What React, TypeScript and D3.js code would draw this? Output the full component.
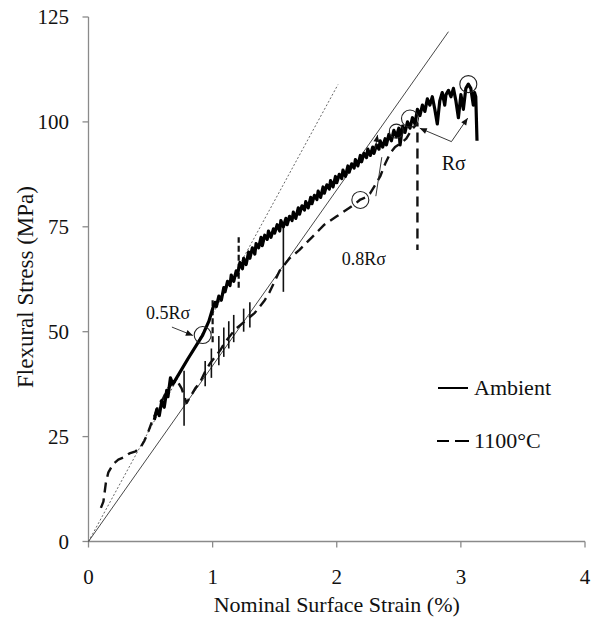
import React from 'react';
import * as d3 from 'd3';

// strain (%) , stress (MPa)
const ambient: [number, number][] = [
  [0.53, 29], [0.55, 31.5], [0.57, 30], [0.59, 33.5], [0.61, 32], [0.63, 36], [0.64, 34.5],
  [0.66, 39], [0.68, 37.5], [0.80, 43.5], [0.92, 49.2], [0.97, 52.5], [1.00, 55.5],
  [1.02, 57], [1.03, 56], [1.05, 58.5], [1.07, 57.5], [1.09, 60.5], [1.10, 59.5], [1.12, 62],
  [1.14, 61], [1.15, 63.5], [1.17, 62], [1.19, 64.5], [1.20, 63.5], [1.22, 66.5], [1.24, 65],
  [1.25, 67.5], [1.27, 66], [1.29, 69], [1.30, 67.5], [1.32, 70], [1.34, 68.5], [1.35, 71],
  [1.37, 70], [1.39, 72.5], [1.40, 70.5], [1.42, 73], [1.44, 72], [1.45, 74], [1.47, 72.5],
  [1.49, 74.5], [1.50, 73.5], [1.52, 75.5], [1.54, 74], [1.55, 76.5], [1.57, 75], [1.59, 77],
  [1.60, 75.5], [1.62, 77.5], [1.64, 76.5], [1.65, 78.5], [1.67, 77], [1.69, 79.5], [1.70, 78],
  [1.72, 80], [1.74, 79], [1.75, 81], [1.77, 79.5], [1.79, 82], [1.80, 80.5], [1.82, 82.5],
  [1.84, 81.5], [1.85, 83.5], [1.87, 82], [1.89, 84.5], [1.90, 83], [1.92, 85], [1.94, 84],
  [1.95, 86], [1.97, 84.5], [1.99, 87], [2.00, 85.5], [2.02, 87.5], [2.04, 86.5], [2.05, 88.5],
  [2.07, 87], [2.09, 89.5], [2.10, 88], [2.12, 90], [2.14, 89], [2.15, 91], [2.17, 89.5],
  [2.19, 92], [2.20, 90.5], [2.22, 92.5], [2.24, 91.5], [2.25, 93.5], [2.27, 92], [2.29, 94],
  [2.30, 92.5], [2.32, 94.5], [2.34, 93.5], [2.35, 95.5], [2.37, 94], [2.39, 96], [2.40, 94.5],
  [2.42, 97], [2.44, 95.5], [2.46, 98], [2.48, 96.5], [2.50, 98.5], [2.51, 94.5], [2.53, 99],
  [2.55, 97.5], [2.57, 100], [2.59, 98.5], [2.61, 101], [2.63, 99.5], [2.65, 103], [2.67, 101.5],
  [2.69, 104], [2.71, 102.5], [2.73, 105.5], [2.75, 104], [2.77, 106], [2.79, 103], [2.81, 99.5],
  [2.83, 105], [2.85, 107], [2.87, 104], [2.88, 106.5], [2.90, 107.5], [2.92, 106], [2.94, 108],
  [2.96, 105], [2.98, 101], [3.00, 106.5], [3.02, 103], [3.04, 108], [3.06, 109], [3.08, 108],
  [3.10, 104], [3.11, 107], [3.12, 106], [3.13, 95.5],
];

const hot: [number, number][] = [
  [0.10, 8], [0.12, 9.5], [0.14, 14], [0.16, 16.5], [0.20, 18.5], [0.24, 19.5], [0.28, 20],
  [0.33, 21], [0.38, 21.5], [0.42, 22.5], [0.45, 24], [0.48, 26], [0.51, 28.5], [0.54, 30.5],
  [0.57, 33], [0.60, 34], [0.63, 36], [0.67, 37.5], [0.71, 38.5], [0.75, 36.5], [0.79, 33],
  [0.82, 34.5], [0.86, 36.5], [0.90, 38], [0.94, 40.5], [0.98, 42.5], [1.02, 44], [1.06, 45.5],
  [1.10, 47.5], [1.14, 49], [1.18, 50.5], [1.22, 51.5], [1.26, 52.5], [1.30, 53.5], [1.34, 54.5],
  [1.38, 56], [1.42, 57.5], [1.46, 59.5], [1.50, 62], [1.54, 64.5], [1.58, 66], [1.62, 67.5],
  [1.66, 68.5], [1.70, 69.5], [1.75, 71], [1.80, 72.5], [1.85, 74], [1.90, 75.5], [1.95, 76.5],
  [2.00, 77.5], [2.05, 78.5], [2.10, 79.5], [2.15, 80.5], [2.19, 81.5], [2.23, 82], [2.27, 83],
  [2.31, 85], [2.35, 87], [2.39, 90], [2.43, 92.5], [2.47, 94], [2.52, 95], [2.56, 96],
  [2.60, 98], [2.65, 99.7], [2.65, 69.5],
];

// vertical jumps in the records: strain, low, high, dashed?
const spikes: [number, number, number, boolean][] = [
  [0.77, 27.6, 40.7, false], [1.57, 59.5, 75, false],
  [1.00, 47.5, 57.5, true], [1.21, 60.5, 72.5, true],
  [0.94, 37, 43, false], [0.99, 39, 46, false], [1.05, 42, 49, false], [1.09, 44, 51, false],
  [1.13, 46, 52.5, false], [1.17, 47.5, 54, false], [1.25, 50, 55.5, false], [1.30, 51, 57, false],
];

// elastic reference lines
const modulusLine: [number, number][] = [[0, 0], [2.90, 121.5]];
const initialLine: [number, number][] = [[0, 0], [2.01, 108.9]];

const circles: [number, number, number][] = [
  [0.92, 49.2, 8.5], [2.19, 81.4, 8.5], [2.48, 97.8, 7], [2.59, 100.8, 8.5], [3.06, 109, 8.5],
];

const xTicks = [0, 1, 2, 3, 4];
const yTicks = [0, 25, 50, 75, 100, 125];

const font = 'Liberation Serif, Times New Roman, DejaVu Serif, serif';

export default function App() {
  const x = d3.scaleLinear().domain([0, 4]).range([88.5, 585]);
  const y = d3.scaleLinear().domain([0, 125]).range([541.5, 17]);
  const line = d3.line<[number, number]>().x(d => x(d[0])).y(d => y(d[1]));

  const axisColor = '#8a8a8a';

  const arrow = (x1: number, y1: number, x2: number, y2: number, key: string, head = true) => {
    const px1 = x(x1), py1 = y(y1), px2 = x(x2), py2 = y(y2);
    const a = Math.atan2(py2 - py1, px2 - px1);
    const L = 7, W = 3;
    const hx = px2 - L * Math.cos(a), hy = py2 - L * Math.sin(a);
    const pts = `${px2},${py2} ${hx + W * Math.sin(a)},${hy - W * Math.cos(a)} ${hx - W * Math.sin(a)},${hy + W * Math.cos(a)}`;
    return (
      <g key={key}>
        <line x1={px1} y1={py1} x2={px2} y2={py2} stroke="#222" strokeWidth={0.9} />
        {head && <polygon points={pts} fill="#111" />}
      </g>
    );
  };

  return (
    <svg width={594} height={617} style={{ position: 'absolute', left: 0, top: 0, background: '#fff', fontFamily: font }}>
      {/* axes */}
      <line x1={x(0)} x2={x(4)} y1={y(0)} y2={y(0)} stroke={axisColor} strokeWidth={1.3} />
      <line x1={x(0)} x2={x(0)} y1={y(0)} y2={y(125)} stroke={axisColor} strokeWidth={1.3} />
      {xTicks.map(t => (
        <g key={'x' + t}>
          <line x1={x(t)} x2={x(t)} y1={y(0)} y2={y(0) + 6} stroke={axisColor} strokeWidth={1.3} />
          <text x={x(t)} y={584} textAnchor="middle" fontSize={21} fill="#111">{t}</text>
        </g>
      ))}
      {yTicks.map(t => (
        <g key={'y' + t}>
          <line x1={x(0) - 6} x2={x(0)} y1={y(t)} y2={y(t)} stroke={axisColor} strokeWidth={1.3} />
          <text x={69} y={y(t)} dy="0.35em" textAnchor="end" fontSize={21} fill="#111">{t}</text>
        </g>
      ))}
      <text x={(x(0) + x(4)) / 2} y={612} textAnchor="middle" fontSize={22} fill="#111">
        Nominal Surface Strain (%)
      </text>
      <text transform={`translate(33,287) rotate(-90)`} textAnchor="middle" fontSize={23} fill="#111">
        Flexural Stress (MPa)
      </text>

      {/* reference lines */}
      <path d={line(modulusLine) || ''} fill="none" stroke="#333" strokeWidth={0.9} />
      <path d={line(initialLine) || ''} fill="none" stroke="#555" strokeWidth={0.9} strokeDasharray="2,2" />

      {/* 1100°C record */}
      <path d={line(hot) || ''} fill="none" stroke="#111" strokeWidth={2.4} strokeDasharray="10,6" strokeLinejoin="round" />
      {spikes.map((s, i) => (
        <line key={'s' + i} x1={x(s[0])} x2={x(s[0])} y1={y(s[1])} y2={y(s[2])} stroke="#111"
          strokeWidth={s[3] ? 2.2 : 1.6} strokeDasharray={s[3] ? '6,3' : undefined} />
      ))}

      {/* ambient record */}
      <path d={line(ambient) || ''} fill="none" stroke="#000" strokeWidth={3.2} strokeLinejoin="round" />

      {circles.map((c, i) => (
        <circle key={'c' + i} cx={x(c[0])} cy={y(c[1])} r={c[2]} fill="none" stroke="#222" strokeWidth={1.1} />
      ))}

      {/* annotations */}
      <text x={x(0.463)} y={y(53.0)} fontSize={18} fill="#111">0.5Rσ</text>
      {arrow(0.672, 51.1, 0.841, 49.1, 'a1')}
      <text x={x(2.041)} y={y(65.9)} fontSize={18} fill="#111">0.8Rσ</text>
      {arrow(2.315, 82.3, 2.363, 91.6, 'a2', false)}
      {arrow(2.31, 93.5, 2.329, 96.9, 'a3')}
      <text x={x(2.846)} y={y(88.5)} fontSize={20} fill="#111">Rσ</text>
      {arrow(2.924, 95.3, 2.669, 98.5, 'a4')}
      {arrow(2.924, 95.3, 3.055, 100.9, 'a5')}

      {/* legend */}
      <line x1={438} x2={468} y1={388} y2={388} stroke="#000" strokeWidth={2} />
      <text x={474} y={395} fontSize={22} fill="#111">Ambient</text>
      <line x1={437} x2={449} y1={441} y2={441} stroke="#000" strokeWidth={2} />
      <line x1={455} x2={469} y1={441} y2={441} stroke="#000" strokeWidth={2} />
      <text x={474} y={448} fontSize={22} fill="#111">1100°C</text>
    </svg>
  );
}
